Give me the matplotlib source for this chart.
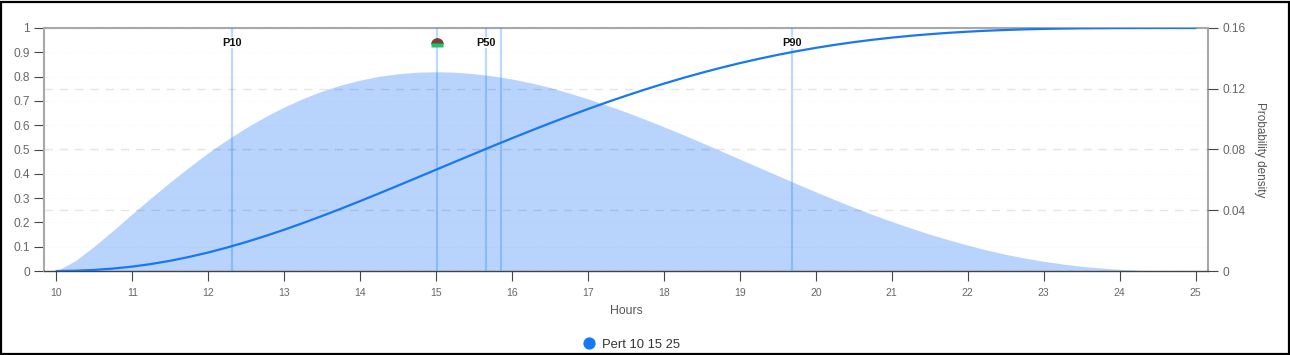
import matplotlib
import matplotlib.pyplot as plt
from matplotlib.patches import Rectangle

matplotlib.use("Agg")

plt.rcParams["font.family"] = ["Liberation Sans", "DejaVu Sans"]

hours = [10, 10.25, 10.5, 10.75, 11, 11.25, 11.5, 11.75, 12, 12.25, 12.5, 12.75, 13, 13.25, 13.5, 13.75,
         14, 14.25, 14.5, 14.75, 15, 15.25, 15.5, 15.75, 16, 16.25, 16.5, 16.75, 17, 17.25, 17.5, 17.75,
         18, 18.25, 18.5, 18.75, 19, 19.25, 19.5, 19.75, 20, 20.25, 20.5, 20.75, 21, 21.25, 21.5, 21.75,
         22, 22.25, 22.5, 22.75, 23, 23.25, 23.5, 23.75, 24, 24.25, 24.5, 24.75, 25]
density = [0, 0.0068, 0.0164, 0.0268, 0.0377, 0.0483, 0.0586, 0.0685, 0.0779, 0.0865, 0.0944, 0.1016,
           0.108, 0.1136, 0.1185, 0.1225, 0.1257, 0.1282, 0.1299, 0.1309, 0.1312, 0.1309, 0.1299, 0.1284,
           0.1264, 0.1239, 0.1208, 0.1172, 0.1133, 0.1091, 0.1047, 0.0999, 0.0949, 0.0898, 0.0845, 0.0791,
           0.0736, 0.0682, 0.0628, 0.0574, 0.0521, 0.0469, 0.0419, 0.0371, 0.0326, 0.0283, 0.0242, 0.0205,
           0.017, 0.0138, 0.011, 0.0085, 0.0064, 0.0046, 0.0031, 0.002, 0.0011, 0.0005, 0.0002, 0, 0]
cumulative = [0, 0.0012, 0.0045, 0.0101, 0.0181, 0.0289, 0.0422, 0.0581, 0.0763, 0.0968, 0.1194, 0.1439,
              0.17, 0.1977, 0.2267, 0.2568, 0.2878, 0.3195, 0.3517, 0.3843, 0.417, 0.4497, 0.4823, 0.5146,
              0.5464, 0.5777, 0.6082, 0.6379, 0.6667, 0.6945, 0.7212, 0.7468, 0.7711, 0.7942, 0.816, 0.8364,
              0.8555, 0.8732, 0.8896, 0.9046, 0.9183, 0.9307, 0.9418, 0.9517, 0.9604, 0.968, 0.9746, 0.9802,
              0.9849, 0.9888, 0.9919, 0.9944, 0.9963, 0.9977, 0.9987, 0.9993, 0.9997, 0.9999, 1, 1, 1]

percentile_x = [12.31, 15.66, 19.69]
percentile_labels = ["P10", "P50", "P90"]
other_lines_x = [15.01, 15.85]
mode_x = [15.01]
mode_dome_y = [0.934]
mode_bar_y = [0.928]

x_ticks = list(range(10, 26))
left_ticks = [0, 0.1, 0.2, 0.3, 0.4, 0.5, 0.6, 0.7, 0.8, 0.9, 1]
left_labels = ["0", "0.1", "0.2", "0.3", "0.4", "0.5", "0.6", "0.7", "0.8", "0.9", "1"]
right_ticks = [0, 0.04, 0.08, 0.12, 0.16]
right_labels = ["0", "0.04", "0.08", "0.12", "0.16"]

BLUE = "#1877f2"
GREY = "#666666"
W, H = 1290, 355

fig = plt.figure(figsize=(W / 100, H / 100), dpi=100, facecolor="white")
ax = fig.add_axes([44 / W, 1 - 271 / H, (1208 - 44) / W, (271 - 28) / H])
ax2 = ax.twinx()

# density goes behind the cumulative line, so it sits on the main axes
ax2.set_zorder(1)
ax.set_zorder(2)
ax.patch.set_visible(False)

ax2.set_ylim(0, 0.16)
ax2.fill_between(hours, density, 0, color="#b8d4fd", lw=0, zorder=1)
ax2.set_yticks(right_ticks, right_labels)
ax2.yaxis.grid(True, color="black", alpha=0.1, lw=1, ls=(0, (6, 5)), zorder=2)
ax2.set_axisbelow(False)
ax2.set_ylabel("Probability density", rotation=270, fontsize=8.5, color="#555555", labelpad=15)
ax2.tick_params(axis="y", length=7.2, width=0.8, color="#444444", labelcolor=GREY, labelsize=8.6, pad=3)

ax.set_xlim(9.836, 25.164)
ax.set_ylim(0, 1)
ax.set_xticks(x_ticks, [str(v) for v in x_ticks])
ax.set_yticks(left_ticks, left_labels)
ax.yaxis.grid(True, color="black", alpha=0.04, lw=0.8, ls=(0, (1, 2)))
ax.set_axisbelow(True)
ax.tick_params(axis="x", length=7.2, width=0.8, color="#444444", labelcolor=GREY, labelsize=7.5, pad=5)
ax.tick_params(axis="y", length=7.2, width=0.8, color="#444444", labelcolor=GREY, labelsize=8.6, pad=3)
ax.set_xlabel("Hours", fontsize=8.8, color="#555555", labelpad=5)

for x in percentile_x + other_lines_x:
    ax.axvline(x, color=BLUE, alpha=0.28, lw=1.6, zorder=3)
for x, label in zip(percentile_x, percentile_labels):
    ax.text(x, 0.94, label, ha="center", va="center", fontsize=7.9, fontweight="bold", color="#111111",
            bbox=dict(facecolor="white", edgecolor="none", pad=0.6), zorder=4)

ax.plot(hours, cumulative, color=BLUE, lw=1.6, zorder=5, solid_capstyle="round")

# stacked markers at the mode: brown dome on a green bar
ax.plot(mode_x, mode_dome_y, ls="none", marker="o", fillstyle="top", ms=9.2, mfc="#7a4234",
        markerfacecoloralt="none", mec="none", zorder=6)
ax.plot(mode_x, mode_bar_y, ls="none", marker=[(-1, -0.3), (1, -0.3), (1, 0.3), (-1, 0.3)], ms=9.2,
        mfc="#20c46c", mec="none", zorder=6)

for side in ("top", "left"):
    ax.spines[side].set_color("#a8a8a8")
    ax.spines[side].set_linewidth(1.5)
ax.spines["right"].set_visible(False)
ax.spines["bottom"].set_color("#444444")
ax.spines["bottom"].set_linewidth(1.0)
ax2.spines["right"].set_color("#a8a8a8")
ax2.spines["right"].set_linewidth(1.5)
for side in ("top", "left", "bottom"):
    ax2.spines[side].set_visible(False)

fig.text(602 / W, 1 - 344.5 / H, "Pert 10 15 25", fontsize=9.4, color="#333333", va="center")
fig.add_artist(plt.Line2D([589 / W], [1 - 343 / H], marker="o", ms=8.8, color=BLUE, mec="none",
                          transform=fig.transFigure))

fig.add_artist(Rectangle((1 / W, 1 / H), (W - 2) / W, (H - 3) / H, transform=fig.transFigure,
                         facecolor="none", edgecolor="black", lw=1.6))

fig.savefig("out.png", dpi=100, facecolor="white")
